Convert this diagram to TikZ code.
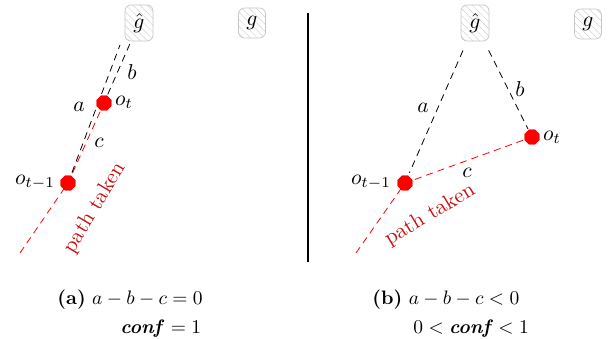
\documentclass[tikz,border=0pt]{standalone}
\usetikzlibrary{shapes.geometric,patterns.meta}
\definecolor{ptred}{RGB}{200,16,16}
\begin{document}
\begin{tikzpicture}[x=1pt,y=-1pt,
  lbl/.style={font=\fontsize{10}{12}\selectfont, inner sep=0pt, scale=2.15},
  goalbox/.style={draw=gray!45, line width=0.7pt, rounded corners=6pt, inner sep=0pt,
    pattern={Lines[angle=-45,distance=5pt,line width=0.5pt]}, pattern color=gray!35},
  obsdot/.style={regular polygon, regular polygon sides=8, fill=red, draw=none,
    minimum size=16pt, inner sep=0pt},
  blackdash/.style={draw=black, line width=0.8pt, dash pattern=on 7pt off 5pt},
  reddash/.style={draw=red, line width=0.8pt, dash pattern=on 7pt off 5pt},
  ptext/.style={font=\fontsize{10}{12}\selectfont, text=ptred, inner sep=0pt, scale=2.15},
  captext/.style={font=\fontsize{10}{12}\selectfont, inner sep=0pt, anchor=base west, scale=1.95}]
\useasboundingbox (0,0) rectangle (608,339);

% ---------- panel (a) ----------
\node[goalbox, minimum width=28pt, minimum height=36pt] (gh1) at (139,23) {};
\node[lbl] (gh1t) at (gh1) {$\hat{g}$};
\node[goalbox, minimum width=27pt, minimum height=30pt] (g1) at (252,23) {};
\node[lbl] (g1t) at (g1) {$g$};
\coordinate (aT1) at (120,45);
\coordinate (e1) at (20,253);
\node[obsdot] (ot1) at (104,103) {};
\node[obsdot] (otm1) at (68,183) {};
\draw[reddash] (e1) -- (otm1.center) -- (ot1.center);
\draw[blackdash, shorten <=3pt] (otm1) -- (aT1);
\draw[blackdash, shorten <=3pt] (gh1) -- (ot1);
\node[obsdot] at (ot1) {};
\node[obsdot] at (otm1) {};
\node[lbl] (lb1) at (132,72) {$b$};
\node[lbl] (la1) at (79,107) {$a$};
\node[lbl] (lc1) at (99,143) {$c$};
\node[lbl] (lot1) at (124,102) {$o_t$};
\node[lbl] (lotm1) at (35,182) {$o_{t-1}$};
\node[ptext, rotate=59] (pt1) at (95,208) {path taken};

% separator
\coordinate (sepT) at (308,13);
\coordinate (sepB) at (308,262);
\draw[line width=1.1pt] (sepT) -- (sepB);

% ---------- panel (b) ----------
\node[goalbox, minimum width=28pt, minimum height=36pt] (gh2) at (475,23) {};
\node[lbl] (gh2t) at (gh2) {$\hat{g}$};
\node[goalbox, minimum width=27pt, minimum height=30pt] (g2) at (588,24) {};
\node[lbl] (g2t) at (g2) {$g$};
\coordinate (e2) at (356,253);
\node[obsdot] (ot2) at (532,137) {};
\node[obsdot] (otm2) at (405,183) {};
\draw[reddash] (e2) -- (otm2.center) -- (ot2.center);
\draw[blackdash, shorten <=10pt, shorten >=3pt] (gh2) -- (otm2);
\draw[blackdash, shorten <=10pt, shorten >=1pt] (gh2) -- (ot2);
\node[obsdot] at (ot2) {};
\node[obsdot] at (otm2) {};
\node[lbl] (la2) at (423,108) {$a$};
\node[lbl] (lb2) at (520,89) {$b$};
\node[lbl] (lc2) at (467,173) {$c$};
\node[lbl] (lot2) at (552,137) {$o_t$};
\node[lbl] (lotm2) at (371,182) {$o_{t-1}$};
\node[ptext, rotate=31] (pt2) at (430,215) {path taken};

% ---------- captions ----------
\node[captext] (c1a) at (57,305) {\textbf{(a)} $a-b-c=0$};
\node[captext] (c1b) at (120,333) {\textbf{\textit{conf}} $=1$};
\node[captext] (c2a) at (372,305) {\textbf{(b)} $a-b-c<0$};
\node[captext] (c2b) at (413,333) {$0<{}$\textbf{\textit{conf}}${}<1$};
\end{tikzpicture}
\end{document}
